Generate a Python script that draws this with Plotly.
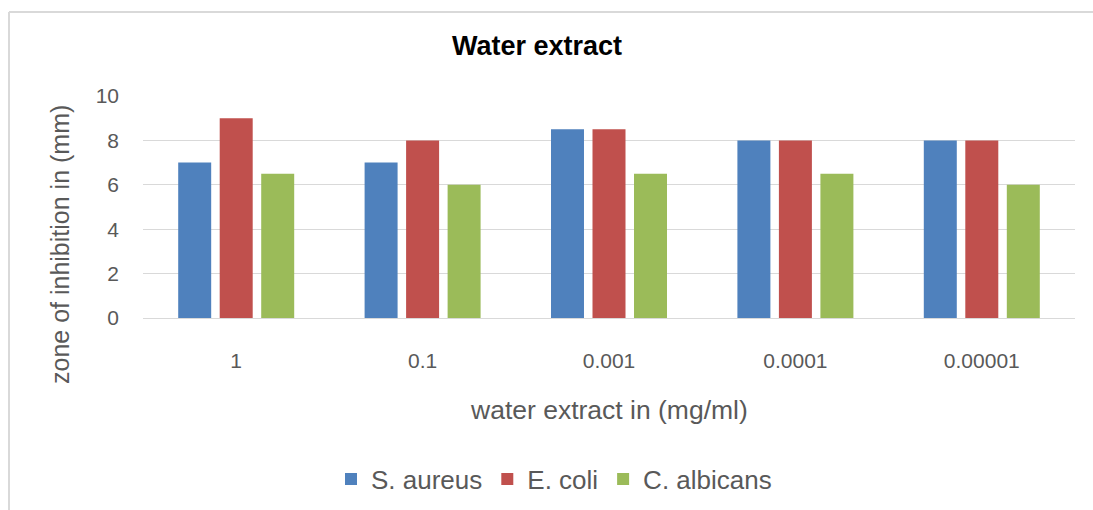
import plotly.graph_objects as go

categories = ["1", "0.1", "0.001", "0.0001", "0.00001"]
s_aureus = [7, 7, 8.5, 8, 8]
e_coli = [9, 8, 8.5, 8, 8]
c_albicans = [6.5, 6, 6.5, 6.5, 6]

series_names = ["S. aureus", "E. coli", "C. albicans"]
series_colors = ["#4F81BD", "#C0504D", "#9BBB59"]
series_values = [s_aureus, e_coli, c_albicans]

W, H = 1093, 510
L, R, T, B = 143, 18, 96, 192
PW, PH = W - L - R, H - T - B

def px_x(px):
    return (px - L) / PW

def px_y(py):
    return (H - B - py) / PH

FONT = "Liberation Sans, Arial, sans-serif"
GRAY = "#595959"
GRID = "#D9D9D9"

fig = go.Figure()
for name, color, vals in zip(series_names, series_colors, series_values):
    fig.add_trace(go.Bar(x=categories, y=vals, name=name, marker=dict(color=color, line=dict(width=0))))

fig.update_layout(
    width=W, height=H,
    margin=dict(l=L, r=R, t=T, b=B, autoexpand=False),
    paper_bgcolor="white", plot_bgcolor="white",
    barmode="group", bargap=0.332, bargroupgap=0.205,
    font=dict(family=FONT, color=GRAY),
    title=dict(text="<b>Water extract</b>", font=dict(family=FONT, size=27, color="#000000"),
               xref="container", x=537 / W, xanchor="center",
               yref="container", y=1 - 46 / H, yanchor="middle"),
    showlegend=True,
    legend=dict(orientation="h", xref="container", x=331 / W, xanchor="left",
                yref="container", y=1 - 479 / H, yanchor="middle",
                font=dict(family=FONT, size=26, color=GRAY), bgcolor="rgba(0,0,0,0)",
                traceorder="normal"),
    xaxis=dict(type="category", showgrid=False, showline=True, linecolor=GRID, linewidth=1,
               ticks="", tickfont=dict(size=21, color=GRAY), ticklabelstandoff=24,
               zeroline=False, automargin=False),
    yaxis=dict(range=[0, 10], dtick=2, showgrid=True, gridcolor=GRID, gridwidth=1,
               showline=False, zeroline=False, ticks="", automargin=False,
               tickfont=dict(size=21, color=GRAY), ticklabelstandoff=23),
)

fig.add_annotation(text="water extract in (mg/ml)", xref="paper", yref="paper",
                   x=px_x(609), y=px_y(410), xanchor="center", yanchor="middle",
                   showarrow=False, font=dict(family=FONT, size=26.5, color=GRAY))
fig.add_annotation(text="zone of inhibition in (mm)", xref="paper", yref="paper",
                   x=px_x(60), y=px_y(245), xanchor="center", yanchor="middle",
                   textangle=-90, showarrow=False, font=dict(family=FONT, size=25, color=GRAY))

fig.add_shape(type="line", xref="paper", yref="paper", x0=px_x(9), x1=px_x(W + 5),
              y0=px_y(12), y1=px_y(12), line=dict(color=GRID, width=2))
fig.add_shape(type="line", xref="paper", yref="paper", x0=px_x(9), x1=px_x(9),
              y0=px_y(12), y1=px_y(H + 5), line=dict(color=GRID, width=2))

fig.write_html("out.html", config={"displayModeBar": False},
               post_script="document.body.style.margin='0';")
